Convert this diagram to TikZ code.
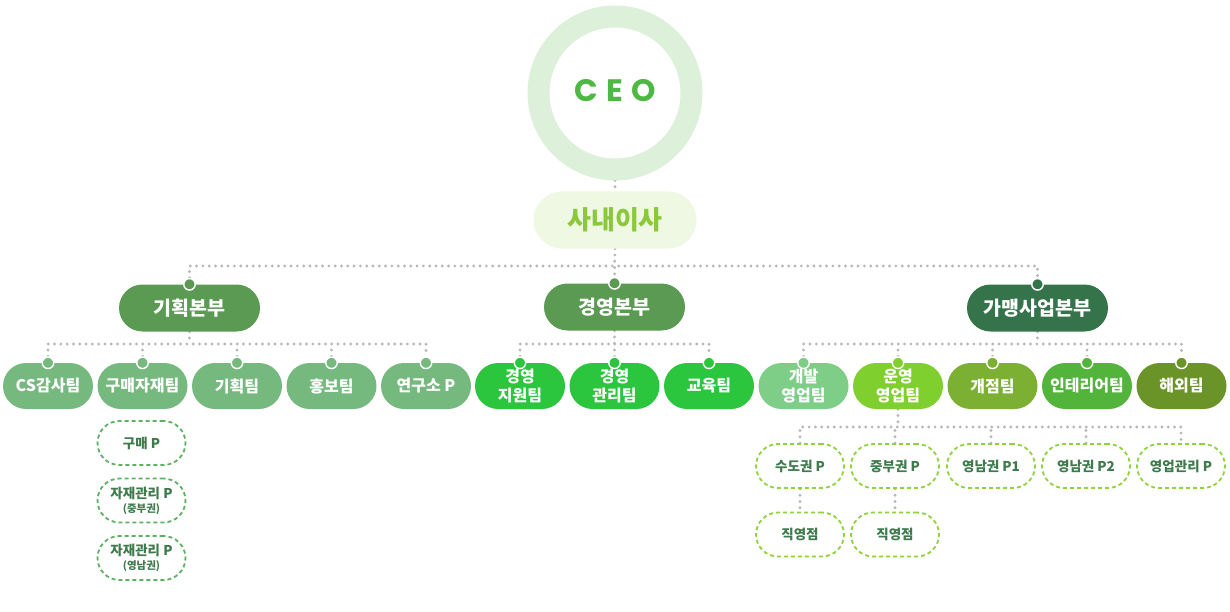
\documentclass[tikz,border=0pt]{standalone}
\usepackage{fontspec}
\newfontfamily\kr{Noto Sans CJK KR}
\newfontfamily\ceofont{Poppins}
\usetikzlibrary{backgrounds}
\definecolor{ring}{HTML}{DDF0DA}
\definecolor{ceogreen}{HTML}{4DB843}
\definecolor{sanaefill}{HTML}{EEF8E3}
\definecolor{sanaetext}{HTML}{8BC83A}
\definecolor{divA}{HTML}{5A9A52}
\definecolor{divC}{HTML}{35744A}
\definecolor{teamA}{HTML}{76B97E}
\definecolor{teamB}{HTML}{2CC63E}
\definecolor{teamC}{HTML}{7ECE88}
\definecolor{teamD}{HTML}{7FCF2E}
\definecolor{teamE}{HTML}{7CB032}
\definecolor{teamF}{HTML}{52B43A}
\definecolor{teamG}{HTML}{6B9428}
\definecolor{dotgray}{HTML}{B8B8B8}
\definecolor{subA}{HTML}{5DB163}
\definecolor{subB}{HTML}{8ED23C}
\definecolor{subtext}{HTML}{3E7A4B}
\tikzset{
  x=1pt,y=-1pt,
  dotline/.style={draw=dotgray,line width=3.2pt,line cap=round,dash pattern=on 0pt off 6.3pt},
  pill/.style={rectangle,rounded corners=#1,inner sep=0pt,text=white,align=center},
  division/.style={pill=23.5pt,minimum width=141pt,minimum height=47pt,font=\kr\bfseries\fontsize{19.5}{23}\selectfont},
  team/.style={pill=23pt,minimum width=90pt,minimum height=46pt,font=\kr\bfseries\fontsize{16}{19}\selectfont},
  knob/.style={circle,draw=white,line width=1.4pt,inner sep=0pt,minimum size=11.5pt},
  subbox/.style={rectangle,rounded corners=22pt,inner sep=0pt,minimum width=88pt,minimum height=44pt,
    dash pattern=on 4pt off 3pt,line width=1.8pt,text=subtext,align=center,font=\kr\bfseries\fontsize{13.5}{15}\selectfont},
}
\begin{document}
\begin{tikzpicture}
\useasboundingbox (0,0) rectangle (1230,612);
% CEO
\node[circle,draw=ring,line width=22pt,minimum size=153pt,inner sep=0pt] (ceo) at (615,93) {};
\node[text=ceogreen,font=\ceofont\bfseries\fontsize{31}{32}\selectfont] (ceotext) at (615,91) {C\hspace{8.5pt}E\hspace{8.5pt}O};
\node[pill=28.5pt,fill=sanaefill,minimum width=163pt,minimum height=57pt,text=sanaetext,font=\kr\bfseries\fontsize{26}{30}\selectfont] (sanae) at (615,220) {사내이사};
% divisions
\node[division,fill=divA] (d1) at (189.5,308) {기획본부};
\node[division,fill=divA] (d2) at (614.5,307) {경영본부};
\node[division,fill=divC] (d3) at (1037.5,308) {가맹사업본부};
\node[knob,fill=divA] (k1) at (d1.north) {};
\node[knob,fill=divA] (k2) at (d2.north) {};
\node[knob,fill=divC] (k3) at (d3.north) {};
% teams
\node[team,fill=teamA] (t1) at (48,386) {CS감사팀};
\node[team,fill=teamA] (t2) at (142.5,386) {구매자재팀};
\node[team,fill=teamA] (t3) at (237,386) {기획팀};
\node[team,fill=teamA] (t4) at (331.5,386) {홍보팀};
\node[team,fill=teamA] (t5) at (426,386) {연구소 P};
\node[team,fill=teamB] (t6) at (520,386) {경영\\지원팀};
\node[team,fill=teamB] (t7) at (614.5,386) {경영\\관리팀};
\node[team,fill=teamB] (t8) at (709,386) {교육팀};
\node[team,fill=teamC] (t9) at (803.5,386) {개발\\영업팀};
\node[team,fill=teamD] (t10) at (898,386) {운영\\영업팀};
\node[team,fill=teamE] (t11) at (992.5,386) {개점팀};
\node[team,fill=teamF] (t12) at (1087,386) {인테리어팀};
\node[team,fill=teamG] (t13) at (1181.5,386) {해외팀};
\foreach \i/\c in {1/teamA,2/teamA,3/teamA,4/teamA,5/teamA,6/teamB,7/teamB,8/teamB,9/teamC,10/teamD,11/teamE,12/teamF,13/teamG}
  \node[knob,fill=\c] (q\i) at (t\i.north) {};
% left sub boxes
\node[subbox,draw=subA] (p1) at (141.5,443) {구매 P};
\node[subbox,draw=subA] (p2) at (141.5,500.5) {자재관리 P\\[-1pt]{\fontsize{10.5}{12}\selectfont(중부권)}};
\node[subbox,draw=subA] (p3) at (141.5,558) {자재관리 P\\[-1pt]{\fontsize{10.5}{12}\selectfont(영남권)}};
% right sub boxes
\node[subbox,draw=subB] (s1) at (800,466) {수도권 P};
\node[subbox,draw=subB] (s2) at (895,466) {중부권 P};
\node[subbox,draw=subB] (s3) at (991,466) {영남권 P1};
\node[subbox,draw=subB] (s4) at (1086,466) {영남권 P2};
\node[subbox,draw=subB] (s5) at (1181,466) {영업관리 P};
\node[subbox,draw=subB] (j1) at (800,534.5) {직영점};
\node[subbox,draw=subB] (j2) at (895,534.5) {직영점};
% bus coordinates
\coordinate (bus0) at (0,266);
\coordinate (bus1) at (0,344);
\coordinate (bus2) at (0,427);
\begin{scope}[on background layer]
\draw[dotline] (ceo.south) -- (sanae.north);
\draw[dotline] (sanae.south) -- (k2.north);
\draw[dotline] (k1.north) -- (k1.north |- bus0) -- (k3.north |- bus0) -- (k3.north);
% planning
\draw[dotline] (d1.south) -- (d1.south |- bus1);
\draw[dotline] (q1.north) -- (q1.north |- bus1) -- (q5.north |- bus1) -- (q5.north);
\foreach \i in {2,3,4} \draw[dotline] (q\i.north) -- (q\i.north |- bus1);
% management
\draw[dotline] (d2.south) -- (d2.south |- bus1);
\draw[dotline] (q6.north) -- (q6.north |- bus1) -- (q8.north |- bus1) -- (q8.north);
\draw[dotline] (q7.north) -- (q7.north |- bus1);
% franchise
\draw[dotline] (d3.south) -- (d3.south |- bus1);
\draw[dotline] (q9.north) -- (q9.north |- bus1) -- (q13.north |- bus1) -- (q13.north);
\foreach \i in {10,11,12} \draw[dotline] (q\i.north) -- (q\i.north |- bus1);
% sales sub
\draw[dotline] (t10.south) -- (t10.south |- bus2);
\draw[dotline] (s1.north) -- (s1.north |- bus2) -- (s5.north |- bus2) -- (s5.north);
\foreach \i in {2,3,4} \draw[dotline] (s\i.north) -- (s\i.north |- bus2);
\draw[dotline] (s1.south) -- (j1.north);
\draw[dotline] (s2.south) -- (j2.north);
\end{scope}
\end{tikzpicture}
\end{document}
